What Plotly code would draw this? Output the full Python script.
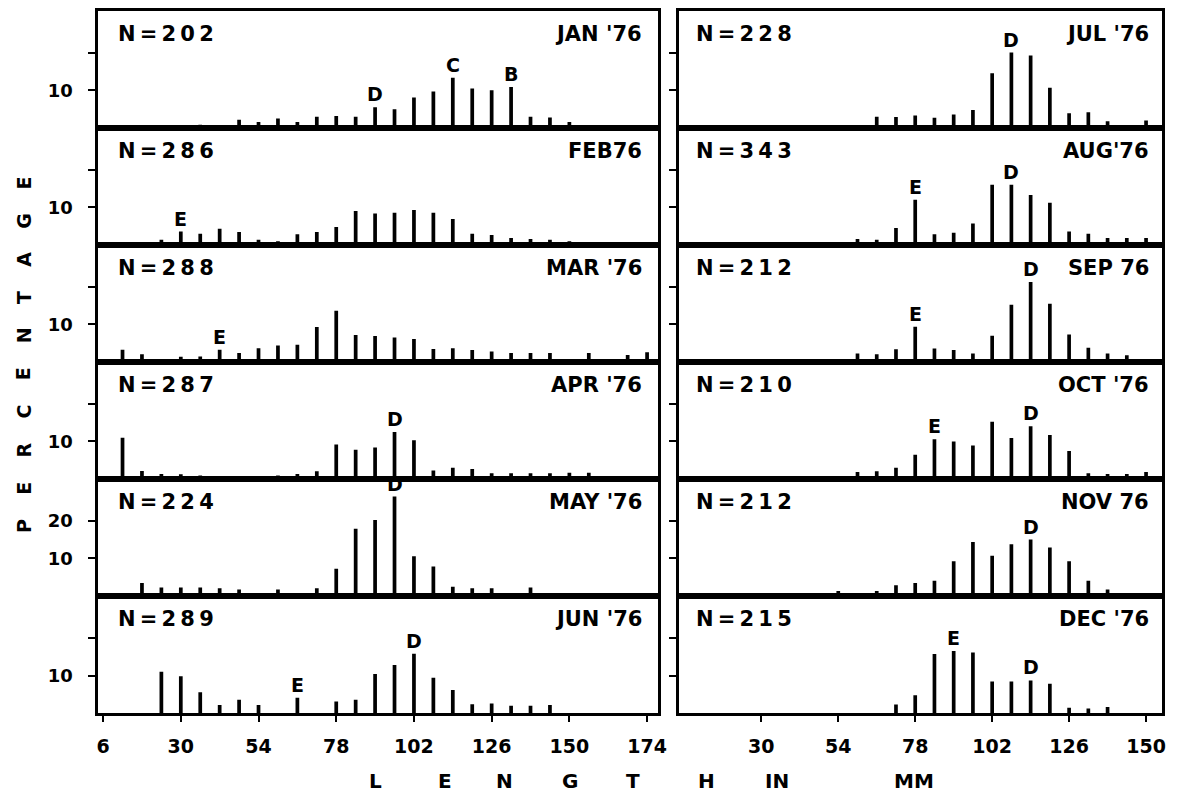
import plotly.graph_objects as go

PAGE_W, PAGE_H = 1188, 801
BODY_MARGIN = 8                      # default page margin around the plot div
W, H = PAGE_W - 2 * BODY_MARGIN, PAGE_H - 2 * BODY_MARGIN
FONT = "DejaVu Sans"

# ---------------- data (length class midpoints in mm, percentage) ----------------
months = ["JAN '76", "FEB76", "MAR '76", "APR '76", "MAY '76", "JUN '76",
          "JUL '76", "AUG'76", "SEP 76", "OCT '76", "NOV 76", "DEC '76"]
n_values = [202, 286, 288, 287, 224, 289, 228, 343, 212, 210, 212, 215]

jan_len = [36, 42, 48, 54, 60, 66, 72, 78, 84, 90, 96, 102, 108, 114, 120, 126, 132, 138, 144, 150]
jan_pct = [0.9, 0.8, 2.2, 1.6, 2.5, 1.6, 3.0, 3.2, 3.0, 5.5, 5.0, 8.1, 9.7, 13.3, 10.5, 10.0, 10.9, 3.0, 2.8, 1.6]

feb_len = [24, 30, 36, 42, 48, 54, 60, 66, 72, 78, 84, 90, 96, 102, 108, 114, 120, 126, 132, 138, 144, 150]
feb_pct = [1.4, 3.6, 3.0, 4.3, 3.5, 1.4, 1.0, 2.9, 3.5, 4.8, 9.0, 8.4, 8.6, 9.3, 8.6, 6.9, 3.0, 2.7, 1.9, 1.6, 1.4, 1.0]

mar_len = [12, 18, 30, 36, 42, 48, 54, 60, 66, 72, 78, 84, 90, 96, 102, 108, 114, 120, 126, 132, 138, 144, 156, 168, 174]
mar_pct = [3.3, 2.1, 1.4, 1.5, 3.3, 2.4, 3.7, 4.4, 4.6, 9.3, 13.6, 7.2, 6.9, 6.5, 6.1, 3.5, 3.7, 3.2, 2.8, 2.4, 2.4, 2.4, 2.4, 1.9, 2.6]

apr_len = [12, 18, 24, 30, 36, 60, 66, 72, 78, 84, 90, 96, 102, 108, 114, 120, 126, 132, 138, 144, 150, 156]
apr_pct = [11.0, 2.2, 1.4, 1.3, 1.0, 1.0, 1.4, 2.1, 9.2, 7.8, 8.4, 12.5, 10.3, 2.3, 3.0, 2.7, 1.6, 1.6, 1.6, 1.6, 1.7, 1.7]

may_len = [12, 18, 24, 30, 36, 42, 48, 60, 72, 78, 84, 90, 96, 102, 108, 114, 120, 126, 138]
may_pct = [0.8, 3.5, 2.3, 2.3, 2.3, 2.1, 1.8, 1.8, 2.1, 7.3, 17.9, 20.2, 26.4, 10.6, 7.9, 2.5, 2.1, 2.1, 2.3]

jun_len = [24, 30, 36, 42, 48, 54, 66, 78, 84, 90, 96, 102, 108, 114, 120, 126, 132, 138, 144]
jun_pct = [11.0, 9.8, 5.6, 2.2, 3.6, 2.2, 4.1, 3.1, 3.6, 10.4, 12.8, 15.8, 9.4, 6.2, 2.4, 2.6, 2.0, 2.0, 2.2]

jul_len = [66, 72, 78, 84, 90, 96, 102, 108, 114, 120, 126, 132, 138, 150]
jul_pct = [3.0, 2.9, 3.3, 2.7, 3.6, 4.8, 14.5, 20.0, 19.2, 10.7, 3.9, 4.2, 1.8, 2.0]

aug_len = [60, 66, 72, 78, 84, 90, 96, 102, 108, 114, 120, 126, 132, 138, 144, 150]
aug_pct = [1.6, 1.4, 4.5, 12.0, 2.9, 3.3, 5.7, 16.0, 16.0, 13.3, 11.2, 3.6, 3.0, 1.9, 1.9, 1.9]

sep_len = [60, 66, 72, 78, 84, 90, 96, 102, 108, 114, 120, 126, 132, 138, 144]
sep_pct = [2.3, 2.1, 3.4, 9.4, 3.6, 3.2, 2.3, 7.0, 15.2, 21.2, 15.5, 7.3, 3.8, 2.3, 1.8]

oct_len = [60, 66, 72, 78, 84, 90, 96, 102, 108, 114, 120, 126, 132, 138, 144, 150]
oct_pct = [1.9, 2.1, 3.0, 6.5, 10.6, 10.0, 8.9, 15.2, 10.9, 14.0, 11.7, 7.5, 1.6, 1.4, 1.4, 1.9]

nov_len = [54, 66, 72, 78, 84, 90, 96, 102, 108, 114, 120, 126, 132, 138]
nov_pct = [1.4, 1.4, 2.9, 3.5, 4.1, 9.3, 14.4, 10.7, 13.8, 15.0, 12.9, 9.3, 4.1, 1.8]

dec_len = [72, 78, 84, 90, 96, 102, 108, 114, 120, 126, 132, 138]
dec_pct = [2.3, 4.8, 15.7, 16.5, 16.1, 8.4, 8.4, 8.7, 7.8, 1.5, 1.3, 1.7]

# cohort marks: (letter, length class)
jan_marks = [("D", 90), ("C", 114), ("B", 132)]
feb_marks = [("E", 30)]
mar_marks = [("E", 42)]
apr_marks = [("D", 96)]
may_marks = [("D", 96)]
jun_marks = [("E", 66), ("D", 102)]
jul_marks = [("D", 108)]
aug_marks = [("E", 78), ("D", 108)]
sep_marks = [("E", 78), ("D", 114)]
oct_marks = [("E", 84), ("D", 114)]
nov_marks = [("D", 114)]
dec_marks = [("E", 90), ("D", 114)]

left_ticks = [6, 30, 54, 78, 102, 126, 150, 174]
right_ticks = [30, 54, 78, 102, 126, 150]
y_ticks = [10, 20]

lens = [jan_len, feb_len, mar_len, apr_len, may_len, jun_len,
        jul_len, aug_len, sep_len, oct_len, nov_len, dec_len]
pcts = [jan_pct, feb_pct, mar_pct, apr_pct, may_pct, jun_pct,
        jul_pct, aug_pct, sep_pct, oct_pct, nov_pct, dec_pct]
marks = [jan_marks, feb_marks, mar_marks, apr_marks, may_marks, jun_marks,
         jul_marks, aug_marks, sep_marks, oct_marks, nov_marks, dec_marks]

# ---------------- layout geometry (page pixels) ----------------
COL_X = [(97, 662), (683, 1170)]
COL_RANGE = [[4.5, 177.5], [4.4, 155.0]]
TOP, ROW_H = 8, 117.5
Y_RANGE = [0, 31]


def fx(px):
    return (px - BODY_MARGIN) / W


def fy(py):
    return 1 - (py - BODY_MARGIN) / H


def tracked(s, sep="\u2009"):
    return sep.join(s)


def bold_font(size):
    return dict(family=FONT, size=size, color="black", weight="bold")


fig = go.Figure()
annotations = []
layout_axes = {}

for i in range(12):
    n = i + 1
    col, row = divmod(i, 6)
    xs = "x" if n == 1 else f"x{n}"
    ys = "y" if n == 1 else f"y{n}"
    xkey = "xaxis" if n == 1 else f"xaxis{n}"
    ykey = "yaxis" if n == 1 else f"yaxis{n}"

    fig.add_trace(go.Bar(
        x=lens[i], y=pcts[i], xaxis=xs, yaxis=ys, width=1.15,
        marker=dict(color="black", line=dict(width=0)),
        hoverinfo="x+y",
    ))

    x0, x1 = COL_X[col]
    yt = TOP + ROW_H * row
    yb = yt + ROW_H

    xa = dict(domain=[fx(x0), fx(x1)], range=COL_RANGE[col], anchor=ys,
              showline=True, mirror=True, linecolor="black", linewidth=2.5,
              showgrid=False, zeroline=False, fixedrange=True)
    if row == 5:
        ticks = left_ticks if col == 0 else right_ticks
        xa.update(tickmode="array", tickvals=ticks, ticktext=[str(t) for t in ticks],
                  ticks="outside", ticklen=6, tickwidth=2, tickcolor="black",
                  tickfont=bold_font(19), ticklabelstandoff=8)
    else:
        xa.update(showticklabels=False, ticks="")

    if col == 0:
        ytext = ["10", "20"] if i == 4 else ["10", ""]
    else:
        ytext = ["", ""]
    ya = dict(domain=[fy(yb), fy(yt)], range=Y_RANGE, anchor=xs,
              showline=True, mirror=True, linecolor="black", linewidth=2.5,
              showgrid=False, zeroline=False, fixedrange=True,
              tickmode="array", tickvals=y_ticks, ticktext=ytext,
              ticks="outside", ticklen=7, tickwidth=2, tickcolor="black",
              tickfont=bold_font(18), ticklabelstandoff=12)
    layout_axes[xkey] = xa
    layout_axes[ykey] = ya

    # sample size and month
    annotations.append(dict(
        text=tracked(f"N={n_values[i]}"), xref=f"{xs} domain", yref=f"{ys} domain",
        x=0, y=1, xanchor="left", yanchor="top", xshift=18 if col == 0 else 15, yshift=-9,
        showarrow=False, font=bold_font(21)))
    annotations.append(dict(
        text=months[i], xref=f"{xs} domain", yref=f"{ys} domain",
        x=1, y=1, xanchor="right", yanchor="top", xshift=-14 if col == 0 else -11, yshift=-9,
        showarrow=False, font=bold_font(21)))

    # cohort letters
    lookup = dict(zip(lens[i], pcts[i]))
    for letter, L in marks[i]:
        annotations.append(dict(
            text=letter, xref=xs, yref=ys, x=L, y=lookup[L],
            xanchor="center", yanchor="bottom", yshift=0,
            showarrow=False, font=bold_font(19)))

# axis titles drawn letter by letter to keep the wide spacing
for j, ch in enumerate("PERCENTAGE"):
    annotations.append(dict(
        text=ch, xref="paper", yref="paper", x=fx(22), y=fy(525 - 38.3 * j),
        xanchor="center", yanchor="middle", textangle=-90,
        showarrow=False, font=bold_font(19)))

for word, px in [("L", 377), ("E", 447), ("N", 507), ("G", 573), ("T", 636),
                 ("H", 710), ("IN", 782), ("MM", 920)]:
    annotations.append(dict(
        text=word, xref="paper", yref="paper", x=fx(px), y=fy(781),
        xanchor="center", yanchor="middle", showarrow=False, font=bold_font(20)))

fig.update_layout(
    width=W, height=H, autosize=False,
    margin=dict(l=0, r=0, t=0, b=0),
    paper_bgcolor="white", plot_bgcolor="white",
    showlegend=False, barmode="overlay",
    annotations=annotations,
    **layout_axes,
)

fig.write_html("out.html")
